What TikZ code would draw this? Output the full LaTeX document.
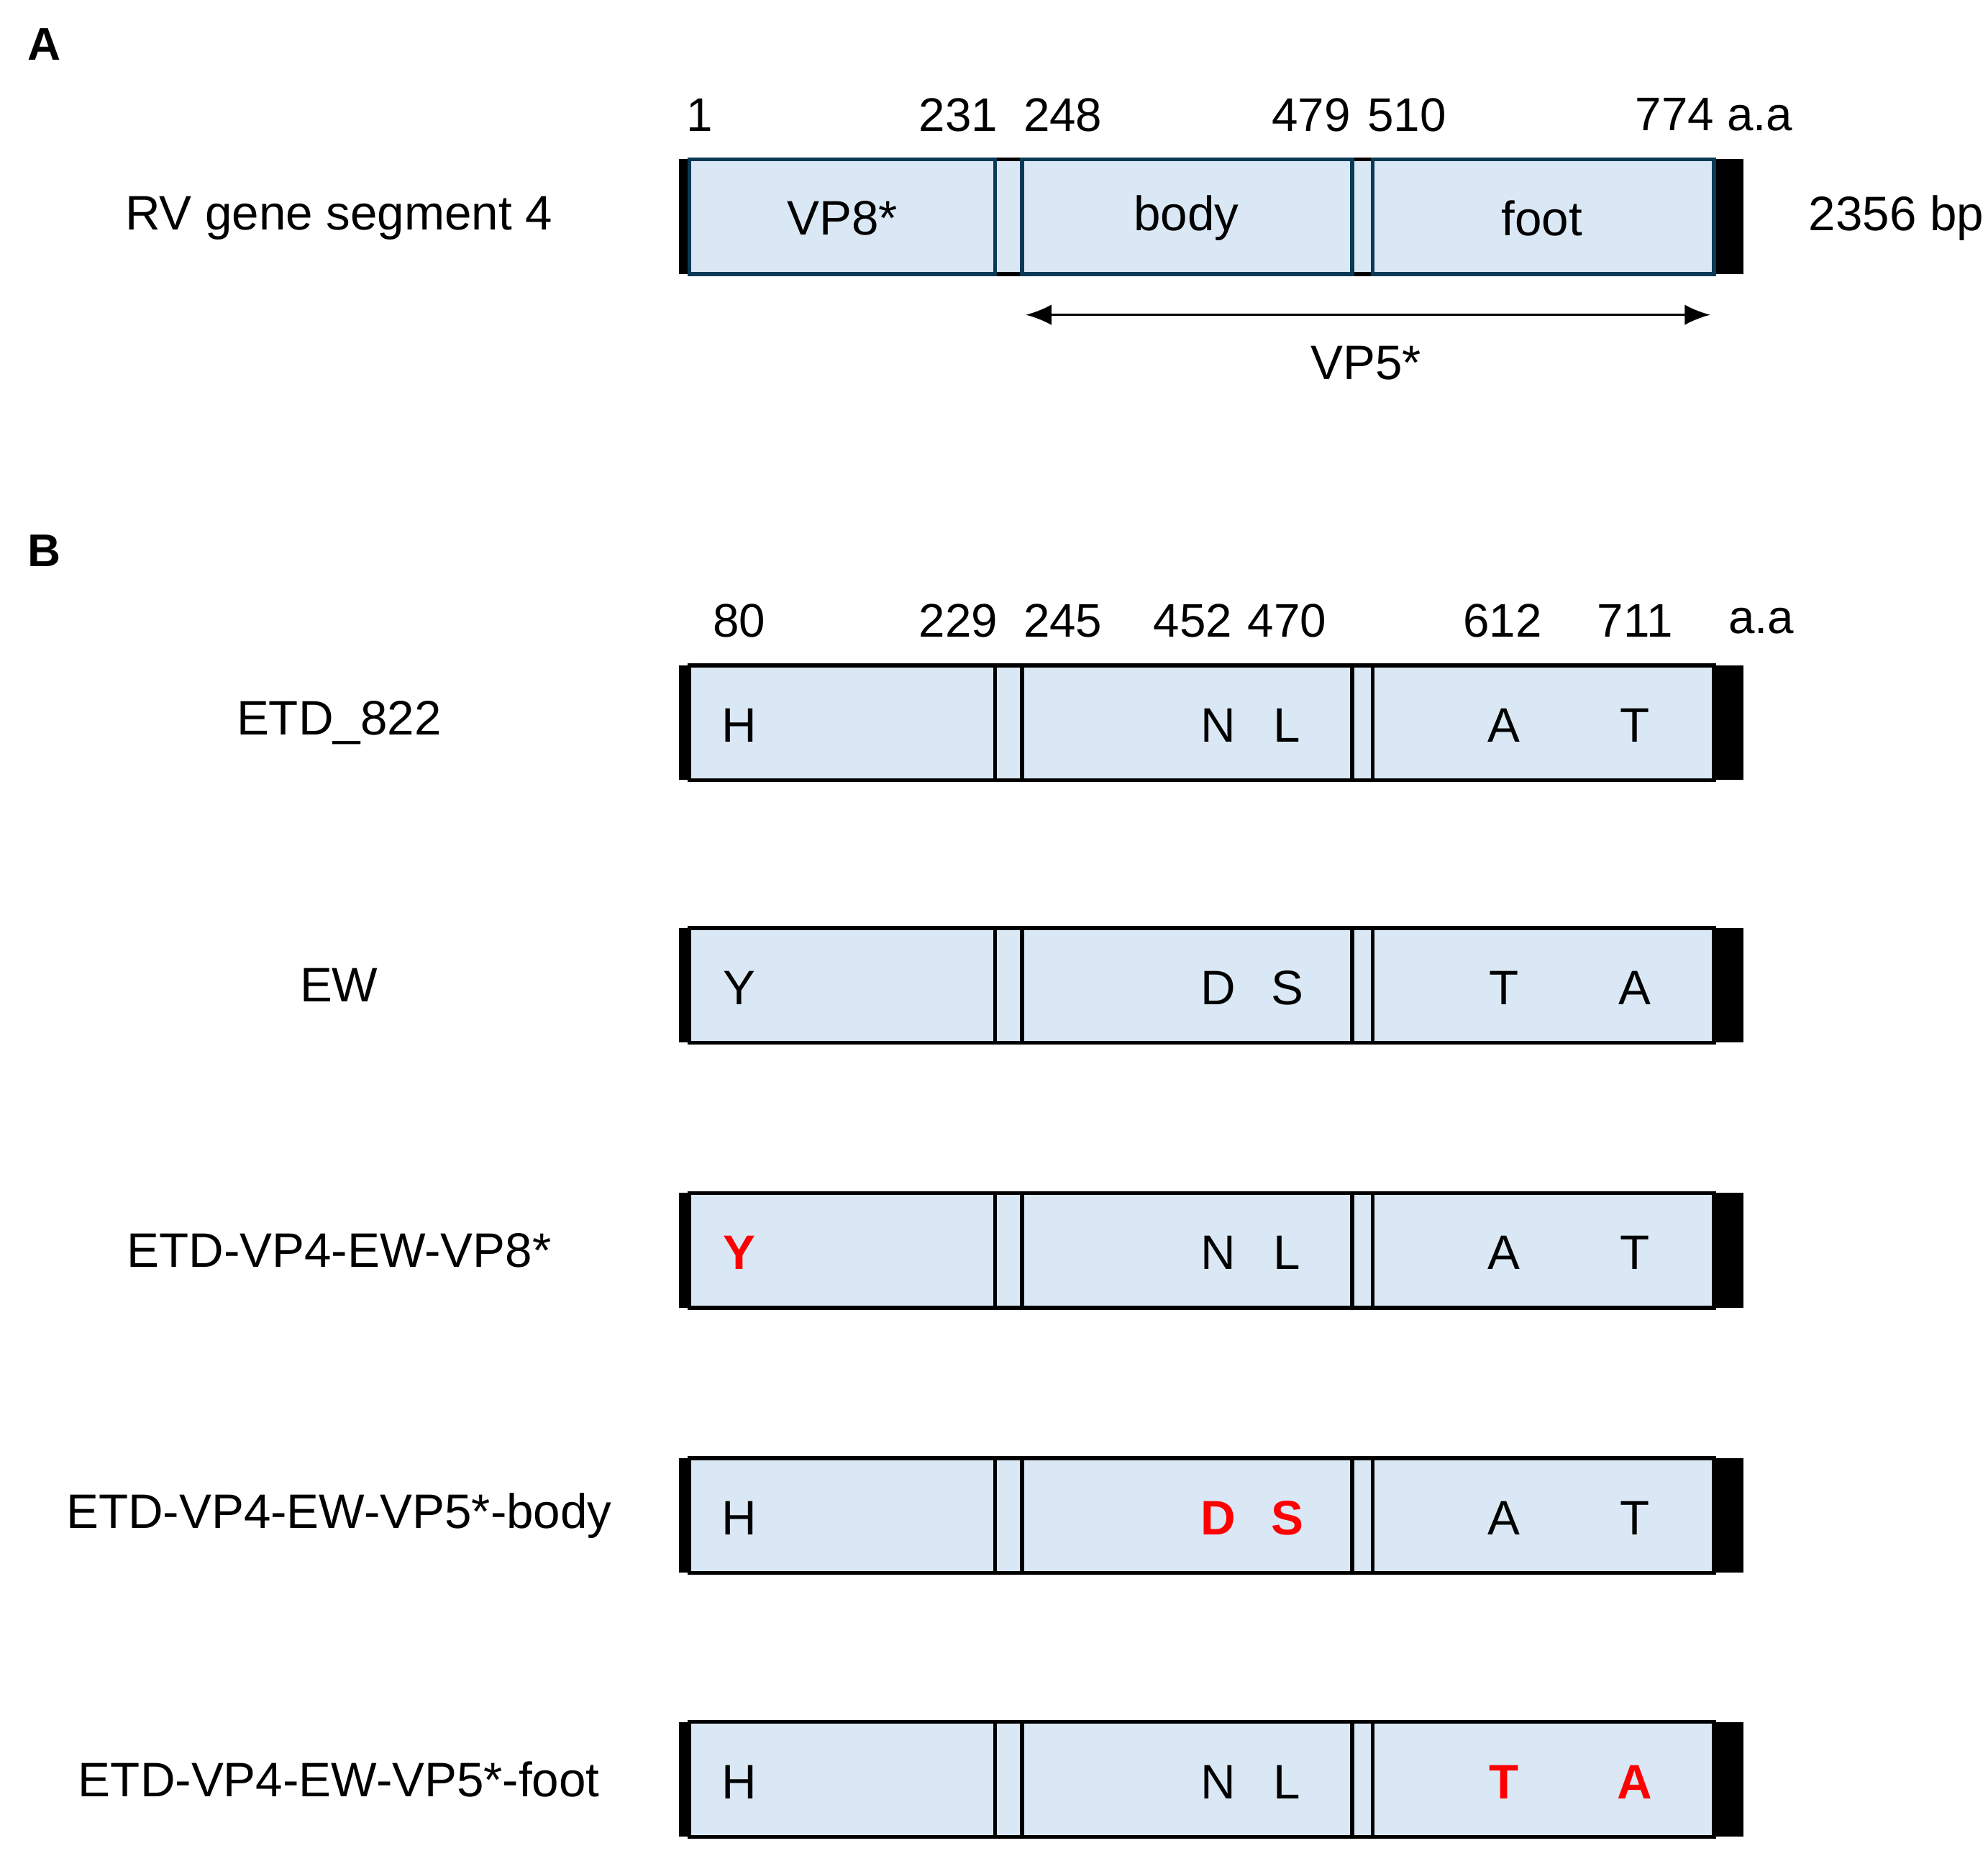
\documentclass[tikz,border=0pt]{standalone}
\usepackage{fontspec}
\setmainfont{Liberation Sans}
\usetikzlibrary{arrows.meta}
\begin{document}
\begin{tikzpicture}[x=1pt,y=-1pt,
  lbl/.style={font=\fontsize{38}{42}\selectfont, inner sep=0pt},
  num/.style={font=\fontsize{37}{42}\selectfont, inner sep=0pt},
  res/.style={font=\fontsize{38}{42}\selectfont, inner sep=0pt},
  mut/.style={font=\fontsize{38}{42}\selectfont\bfseries, text=red, inner sep=0pt}]
\definecolor{fillb}{HTML}{DAE8F5}
\definecolor{edgeb}{HTML}{0A3A55}
\useasboundingbox (0,0) rectangle (1560,1456);
\newcommand{\mybar}[2]{% y centre, edge colour
  \fill[fillb] (533,#1-45) rectangle (1368,#1+45);
  \fill[black] (533,#1-45) rectangle (541,#1+45);
  \fill[black] (1345,#1-45) rectangle (1368,#1+45);
  \draw[line width=3pt,black] (781,#1-45) -- (802,#1-45) (781,#1+45) -- (802,#1+45)
     (1061,#1-45) -- (1077,#1-45) (1061,#1+45) -- (1077,#1+45);
  \draw[line width=3pt,#2] (541,#1-45) rectangle (781,#1+45);
  \draw[line width=3pt,#2] (802,#1-45) rectangle (1061,#1+45);
  \draw[line width=3pt,#2] (1077,#1-45) rectangle (1345,#1+45);
}
\node[font=\fontsize{36}{40}\selectfont\bfseries,inner sep=0pt] (la) at (35,35) {A};
\node[font=\fontsize{36}{40}\selectfont\bfseries,inner sep=0pt] (lb) at (35,432) {B};
% Panel A
\mybar{170}{edgeb}
\node[num] (n1) at (549,90) {1};
\node[num] (n231) at (752,90) {231};
\node[num] (n248) at (834,90) {248};
\node[num] (n479) at (1029,90) {479};
\node[num] (n510) at (1104,90) {510};
\node[num] (n774) at (1345,90) {774 a.a};
\node[lbl] (rv) at (266,171) {RV gene segment 4};
\node[lbl] (bp) at (1488,171) {2356 bp};
\node[lbl] (vp8) at (661,171) {VP8*};
\node[lbl] (body) at (931,171) {body};
\node[lbl] (foot) at (1210,171) {foot};
\coordinate (al) at (805,247);
\coordinate (ar) at (1342,247);
\draw[line width=1.5pt,{Latex[length=20pt,width=16pt]}-{Latex[length=20pt,width=16pt]}] (al) -- (ar);
\node[lbl] (vp5) at (1072,285) {VP5*};
% Panel B numbers
\node[num] (b80) at (580,487) {80};
\node[num] (b229) at (752,487) {229};
\node[num] (b245) at (834,487) {245};
\node[num] (b452) at (936,487) {452};
\node[num] (b470) at (1010,487) {470};
\node[num] (b612) at (1179,487) {612};
\node[num] (b711) at (1283,487) {711};
\node[num] (baa) at (1382,487) {a.a};
% rows
\mybar{567}{black}
\node[lbl] (r1) at (266,567) {ETD\_822};
\node[res] at (580,569) {H}; \node[res] at (956,569) {N}; \node[res] at (1010,569) {L};
\node[res] at (1180,569) {A}; \node[res] at (1283,569) {T};
\mybar{773}{black}
\node[lbl] (r2) at (266,773) {EW};
\node[res] at (580,775) {Y}; \node[res] at (956,775) {D}; \node[res] at (1010,775) {S};
\node[res] at (1180,775) {T}; \node[res] at (1283,775) {A};
\mybar{981}{black}
\node[lbl] (r3) at (266,981) {ETD-VP4-EW-VP8*};
\node[mut] at (580,983) {Y}; \node[res] at (956,983) {N}; \node[res] at (1010,983) {L};
\node[res] at (1180,983) {A}; \node[res] at (1283,983) {T};
\mybar{1189}{black}
\node[lbl] (r4) at (266,1189) {ETD-VP4-EW-VP5*-body};
\node[res] at (580,1191) {H}; \node[mut] at (956,1191) {D}; \node[mut] at (1010,1191) {S};
\node[res] at (1180,1191) {A}; \node[res] at (1283,1191) {T};
\mybar{1396}{black}
\node[lbl] (r5) at (266,1396) {ETD-VP4-EW-VP5*-foot};
\node[res] at (580,1398) {H}; \node[res] at (956,1398) {N}; \node[res] at (1010,1398) {L};
\node[mut] at (1180,1398) {T}; \node[mut] at (1283,1398) {A};
\end{tikzpicture}
\end{document}
